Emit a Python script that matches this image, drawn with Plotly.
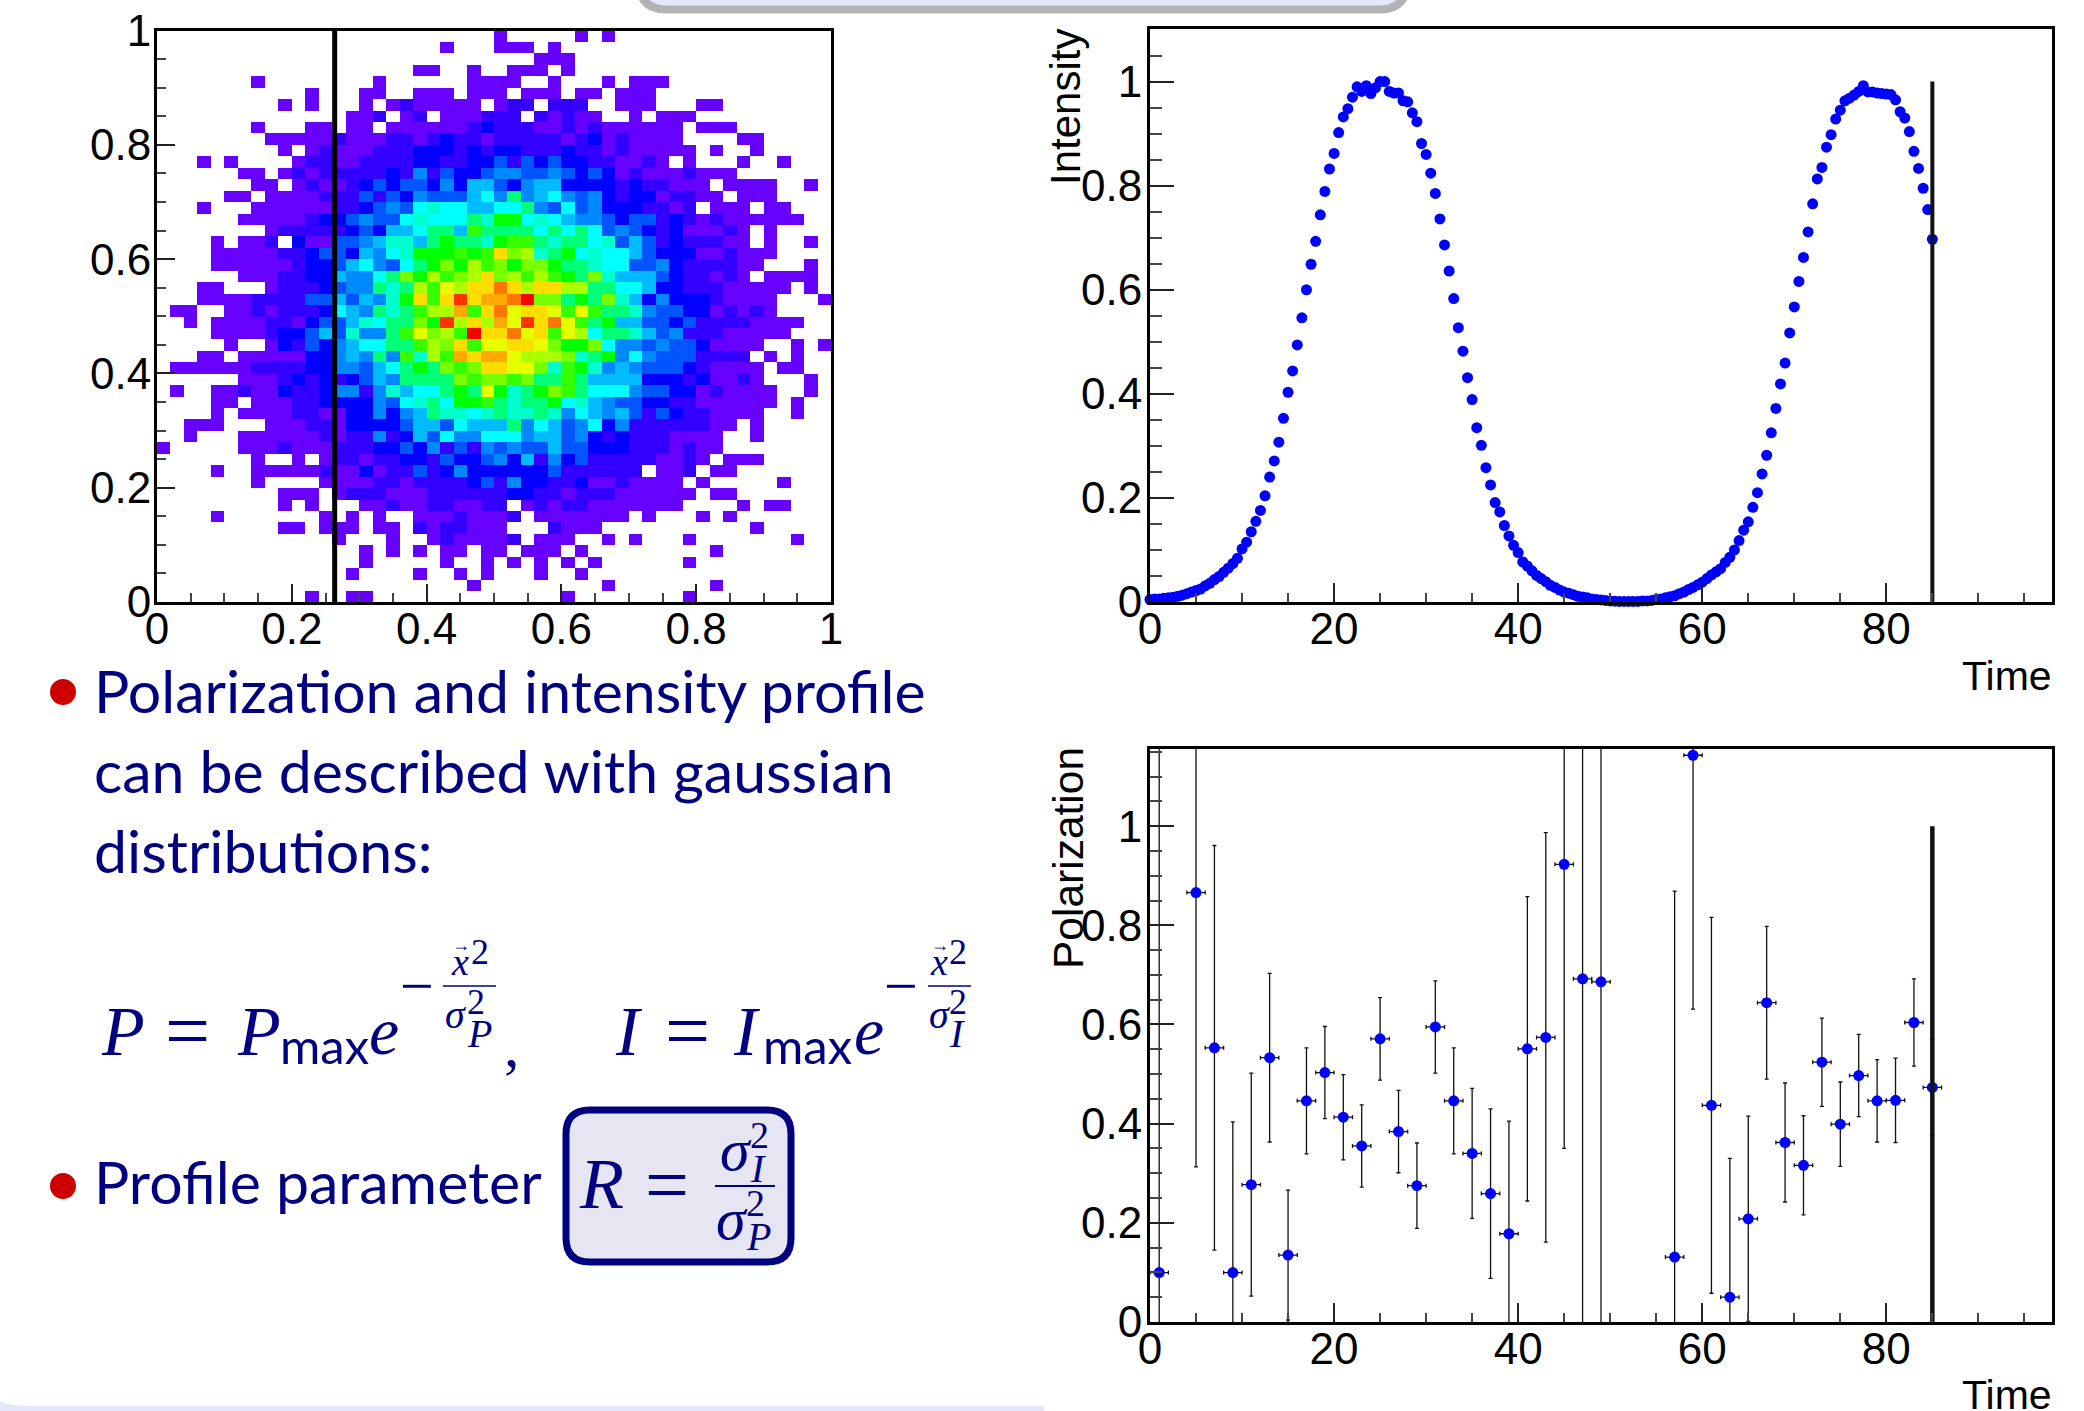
import plotly.graph_objects as go

W, H = 2084, 1411

# 2D histogram: rows listed from the top of the plot (y near 1) to the bottom, 50 columns each.
# '.' is an empty bin; other symbols index into histogram_palette in order.
histogram_symbols = "123456789abcdefghij"
histogram_palette = ["#6600FF", "#3300FF", "#0000FF", "#0055FF", "#0088FF", "#00BBFF", "#00FFFF",
                     "#00FFCC", "#00FF77", "#00FF00", "#33FF00", "#77FF00", "#AAFF00", "#E5FF00",
                     "#FFDD00", "#FFAA00", "#FF7700", "#FF3300", "#FF0000"]
histogram_rows = [
    ".......... .......... .....1.... .1.1...... ..........",
    ".......... .......... .1...111.1 .......... ..........",
    ".......... .......... ........11 1......... ..........",
    ".......... .........1 1..1..111. 1......... ..........",
    ".......1.. ......1... ...1111..1 ...1.111.. ..........",
    ".......... .1...11..1 11.111.111 .11.111... ..........",
    ".........1 .1...1.121 1111.122.2 22..111... 11........",
    ".......... ....112.12 .111222.21 211..1.111 ..........",
    ".......1.. .11.11.111 1112322211 212111111. 111.......",
    "........11 1112111221 2322122222 123121111. ...11.....",
    ".........1 .121112223 3323233222 3221211111 .1..1.....",
    "...1.1.... 1221122223 3223342434 33221121.1 ...1..1...",
    "......11.1 2122222325 2433455445 4343121112 111.......",
    ".......11. 1211234344 3536643566 3333232211 1.1111..1.",
    ".....11.11 1122242435 4446759567 5453233122 11.111....",
    "...1...111 1112234547 8776677954 7453332212 .111.11...",
    "......1111 1233454478 77798aa787 6554344232 12111111..",
    "........12 2222343667 996b999979 7974543231 1121.1....",
    "....1.112. 3114456886 9a998abb98 9978464232 2211.1..1.",
    "....111112 234436578a aababfcd89 a787764333 112111....",
    "....111111 2334675479 acadbcacca 9987744532 22211...1.",
    "......1112 23365579ca dbcdfcdbdb a9c8666432 2121.1111.",
    "...11...12 223455989d bedffhfdff dd99776332 2211111.1.",
    "...1111222 24464658af bfifgghjcc 9a9c863533 321111...1",
    ".11..11212 223765989b ddgbfheffe beb9985443 312121....",
    "..1.111122 134468799c aidfdgeifh eb9a664434 22221111..",
    "....111123 34648559be cdbjffhefb ed79986452 2211111...",
    ".....1..13 243567799b dcfbeeffec aac7554544 31111..1.1",
    "...11.1111 13356595b8 dbgfggeddd c89a575444 2222.1.1..",
    ".111111222 233554679a 9cbcffeec8 ba85654443 21111.11..",
    "......1112 3232346599 99cbccbc99 b966663332 31121...1.",
    ".1..112113 2235525867 79a9ea89ac b977754433 121111..1.",
    "....11.111 2233335478 97aab9899a 7865443322 111111.1..",
    "....1.1111 2211335356 9887898898 5765642432 21111..1..",
    "..111...11 1221333346 6476669576 4573522222 211.1.....",
    "..1...1111 1121225236 4755777566 4532322211 11..1.....",
    "1.....1112 1112223343 5242545446 4433322212 11........",
    ".......1.. 1.12212233 2433453625 3422222112 1.111.....",
    "....1..111 1121131224 2353333334 222222.112 .11.......",
    ".......1.. ..11112212 2223425332 231121111. 1.....1...",
    ".........1 11.1222111 2222223322 1222111111 .11.......",
    ".........1 .1...11211 221122.121 221111111. ...1.11...",
    "....1..... ..1.1.1..1 1121112.11 11111.1... 1.1.......",
    ".........1 1.111.11.2 122111...2 111....... ....1.....",
    ".......... ...1...1.. 1211112.11 1..1.1...1 .......1..",
    ".......... .....1.1.1 .11.11.111 .1........ .1........",
    ".......... .....1.... .1..1.1.1. 1.1......1 ..........",
    ".......... ....1....1 ..1.1...1. .1........ ..........",
    ".......... .......... ...1...... ...1...... .1........",
    ".......... .1..11.... .......... 1........1 ..........",
]
histogram_cut = 0.2636

intensity_values = [
    .005, .006, .006, .007, .008, .009, .011, .013, .016, .019, .022, .025, .031, .036, .043, .049,
    .057, .065, .074, .084, .102, .115, .135, .155, .176, .204, .240, .271, .307, .353, .403, .444,
    .494, .546, .600, .649, .693, .744, .789, .832, .862, .902, .932, .948, .970, .990, .981, .992,
    .977, .988, 1.0, 1.0, .981, .978, .978, .963, .961, .940, .923, .881, .860, .824, .785, .736,
    .686, .636, .583, .527, .482, .431, .389, .335, .301, .258, .225, .191, .173, .147, .127, .109,
    .095, .077, .069, .060, .051, .045, .039, .032, .028, .023, .019, .017, .014, .011, .0096, .008,
    .006, .005, .004, .003, .002, .0015, .001, .001, .001, .001, .001, .002, .002, .003, .005,
    .006, .008, .010, .012, .016, .019, .024, .028, .033, .038, .045, .052, .058, .064, .076, .086,
    .100, .118, .138, .154, .182, .210, .246, .282, .325, .372, .419, .459, .517, .567, .616, .662,
    .711, .765, .813, .835, .874, .898, .928, .945, .963, .968, .974, .981, .992, .980, .980, .978,
    .977, .976, .975, .965, .942, .930, .904, .866, .833, .795, .754, .697,
]
intensity_time = [i * 0.5 for i in range(len(intensity_values))]

polarization_time = [1, 5, 7, 9, 11, 13, 15, 17, 19, 21, 23, 25, 27, 29, 31, 33, 35, 37, 39, 41, 43, 45,
                     47, 49, 57, 59, 61, 63, 65, 67, 69, 71, 73, 75, 77, 79, 81, 83, 85]
polarization_values = [.0996, .866, .553, .0996, .277, .533, .135, .446, .503, .413, .355, .571, .384,
                       .275, .595, .446, .340, .259, .178, .551, .574, .923, .692, .686, .131, 1.143,
                       .437, .050, .208, .644, .362, .316, .524, .399, .497, .446, .447, .604, .473]
polarization_errors = [1.2, .553, .408, .304, .225, .17, .131, .107, .093, .086, .083, .083, .083, .086,
                       .093, .107, .131, .171, .227, .307, .413, .573, .85, 1.1, .738, .512, .379, .28,
                       .207, .154, .12, .1, .089, .085, .083, .083, .085, .088, .097]
time_half_width = 1
time_cut = 85

TICK_FONT = dict(family="Liberation Sans", size=44, color="black")
NAVY = "#000080"
LAV = "#E6E6FA"


def px(x):
    return x / W


def py(y):
    return 1 - y / H


grid = []
for row in reversed(histogram_rows):
    cells = row.replace(" ", "")
    assert len(cells) == 50, row
    grid.append([None if c == "." else histogram_symbols.index(c) + 1 for c in cells])

n = len(histogram_palette)
scale = []
for i, c in enumerate(histogram_palette):
    scale += [[i / n, c], [(i + 1) / n, c]]

fig = go.Figure()
fig.add_trace(go.Heatmap(z=grid, x0=0.01, dx=0.02, y0=0.01, dy=0.02, colorscale=scale, zmin=0.5, zmax=n + 0.5,
                         showscale=False, hoverinfo="skip", xaxis="x", yaxis="y"))
fig.add_trace(go.Scatter(x=[histogram_cut, histogram_cut], y=[0, 1], mode="lines",
                         line=dict(color="black", width=5), xaxis="x", yaxis="y"))
fig.add_trace(go.Scatter(x=intensity_time, y=intensity_values, mode="markers",
                         marker=dict(color="#0000FF", size=11), xaxis="x2", yaxis="y2", cliponaxis=False))
fig.add_trace(go.Scatter(x=[time_cut, time_cut], y=[0, 1], mode="lines",
                         line=dict(color="#111111", width=4), xaxis="x2", yaxis="y2"))
fig.add_trace(go.Scatter(x=polarization_time, y=polarization_values, mode="markers",
                         marker=dict(color="#0000FF", size=11),
                         error_y=dict(type="data", array=polarization_errors, color="#111111", thickness=1.3, width=2),
                         error_x=dict(type="constant", value=time_half_width, color="#111111", thickness=1.3, width=2),
                         xaxis="x3", yaxis="y3"))
fig.add_trace(go.Scatter(x=[time_cut, time_cut], y=[0, 1], mode="lines",
                         line=dict(color="#111111", width=4.5), xaxis="x3", yaxis="y3"))


def axis(dom, rng, dtick, minor, ticklen, minorlen, anchor, standoff):
    return dict(domain=dom, range=rng, dtick=dtick, tick0=0, ticks="inside", ticklen=ticklen, tickwidth=2,
                tickcolor="#222222", showline=True, linewidth=3, linecolor="black", mirror=True,
                showgrid=False, zeroline=False, tickfont=TICK_FONT, anchor=anchor, automargin=False,
                ticklabelstandoff=standoff,
                minor=dict(dtick=minor, tick0=0, ticks="inside", ticklen=minorlen, tickwidth=2,
                           tickcolor="#444444", showgrid=False))


layout = dict(
    template="none",
    width=W, height=H, margin=dict(l=0, r=0, t=0, b=0, pad=0, autoexpand=False), paper_bgcolor="white",
    plot_bgcolor="white", showlegend=False,
    xaxis=axis([px(157), px(831)], [0, 1], 0.2, 0.05, 18, 9, "y", -14),
    yaxis=axis([py(602), py(30.5)], [0, 1], 0.2, 0.05, 18, 9, "x", -6),
    xaxis2=axis([px(1150), px(2052)], [0, 98], 20, 5, 19, 9, "y2", -14),
    yaxis2=axis([py(602), py(29)], [0, 1.101], 0.2, 0.05, 24, 12, "x2", -4),
    xaxis3=axis([px(1150), px(2052)], [0, 98], 20, 5, 19, 9, "y3", -14),
    yaxis3=axis([py(1322), py(749)], [0, 1.1556], 0.2, 0.05, 24, 12, "x3", -4),
)
fig.update_layout(**layout)

shapes = []


def rect_path(x0, y0, x1, y1, r):
    X0, X1, Y0, Y1 = px(x0), px(x1), py(y0), py(y1)
    rx, ry = r / W, r / H
    return (f"M{X0 + rx},{Y0} L{X1 - rx},{Y0} Q{X1},{Y0} {X1},{Y0 - ry} L{X1},{Y1 + ry} Q{X1},{Y1} {X1 - rx},{Y1} "
            f"L{X0 + rx},{Y1} Q{X0},{Y1} {X0},{Y1 + ry} L{X0},{Y0 - ry} Q{X0},{Y0} {X0 + rx},{Y0} Z")


# Top title box remnant
shapes.append(dict(type="path", xref="paper", yref="paper", path=rect_path(639, -40, 1407, 9.5, 28),
                   fillcolor=LAV, line=dict(color="#B3B3B3", width=8), layer="below"))
# Bottom band
shapes.append(dict(type="path", xref="paper", yref="paper",
                   path=f"M0,{py(1401)} Q{px(8)},{py(1406)} {px(35)},{py(1406)} L{px(1044)},{py(1406)} L{px(1044)},0 L0,0 Z",
                   fillcolor=LAV, line=dict(width=0), layer="below"))
# Bullets
for cy in (692, 1186):
    shapes.append(dict(type="circle", xref="paper", yref="paper", x0=px(50), x1=px(76), y0=py(cy - 13), y1=py(cy + 13),
                       fillcolor="#CC0000", line=dict(width=0)))
# Formula box
shapes.append(dict(type="path", xref="paper", yref="paper", path=rect_path(566, 1110, 791, 1262, 24),
                   fillcolor="#E6E6F2", line=dict(color=NAVY, width=7)))
# Fraction bars
for x0, x1, y, w in [(443, 496, 986, 1.5), (928, 971, 986, 1.5), (715, 775, 1186, 2)]:
    shapes.append(dict(type="line", xref="paper", yref="paper", x0=px(x0), x1=px(x1), y0=py(y), y1=py(y),
                       line=dict(color=NAVY, width=w)))
fig.update_layout(shapes=shapes)

ann = []


def text(s, x, y, size, family="Liberation Sans", color="black", xanchor="left", yanchor="middle", angle=0):
    ann.append(dict(text=s, x=px(x), y=py(y), xref="paper", yref="paper", showarrow=False, xanchor=xanchor,
                    yanchor=yanchor, textangle=angle, font=dict(family=family, size=size, color=color),
                    borderpad=0, borderwidth=0))


# Axis titles
text("Intensity", 1065, 29, 42, xanchor="center", yanchor="top", angle=-90)
text("Polarization", 1068, 747, 42.5, xanchor="center", yanchor="top", angle=-90)
text("Time", 2052, 676, 41, xanchor="right")
text("Time", 2052, 1395, 41, xanchor="right")

SANS = "Lato"
SERIF = "Liberation Serif"
text("Polarization and intensity profile", 94, 690, 59, SANS, NAVY)
text("can be described with gaussian", 94, 770, 59, SANS, NAVY)
text("distributions:", 94, 850, 59, SANS, NAVY)
text("Profile parameter", 94, 1181, 59, SANS, NAVY)


def ital(s):
    return f"<i>{s}</i>"


# P = Pmax e^-(x^2/sigma_P^2),   I = Imax e^-(x^2/sigma_I^2)
text(ital("P"), 101, 1031, 70, SERIF, NAVY)
text("=", 165, 1031, 80, SERIF, NAVY)
text(ital("P"), 237, 1031, 70, SERIF, NAVY)
text("max", 280, 1045, 49, SANS, NAVY)
text(ital("e"), 369, 1031, 68, SERIF, NAVY)
text("−", 400, 986, 60, SERIF, NAVY)
text(ital("x"), 451, 962, 38, SERIF, NAVY)
text("→", 452, 945, 18, SERIF, NAVY)
text("2", 471, 952, 36, SERIF, NAVY)
text(ital("σ"), 445, 1014, 40, SERIF, NAVY)
text("2", 467, 1002, 36, SERIF, NAVY)
text(ital("P"), 467, 1033, 40, SERIF, NAVY)
text(",", 504, 1045, 62, SERIF, NAVY)

text(ital("I"), 615, 1031, 70, SERIF, NAVY)
text("=", 665, 1031, 80, SERIF, NAVY)
text(ital("I"), 733, 1031, 70, SERIF, NAVY)
text("max", 763, 1045, 49, SANS, NAVY)
text(ital("e"), 854, 1031, 68, SERIF, NAVY)
text("−", 884, 986, 60, SERIF, NAVY)
text(ital("x"), 930, 962, 38, SERIF, NAVY)
text("→", 931, 945, 18, SERIF, NAVY)
text("2", 949, 952, 36, SERIF, NAVY)
text(ital("σ"), 929, 1014, 40, SERIF, NAVY)
text("2", 949, 1002, 36, SERIF, NAVY)
text(ital("I"), 949, 1033, 40, SERIF, NAVY)

# R = sigma_I^2 / sigma_P^2
text(ital("R"), 579, 1184, 72, SERIF, NAVY)
text("=", 645, 1184, 78, SERIF, NAVY)
text(ital("σ"), 720, 1150, 60, SERIF, NAVY)
text("2", 750, 1135, 38, SERIF, NAVY)
text(ital("I"), 750, 1168, 40, SERIF, NAVY)
text(ital("σ"), 716, 1219, 60, SERIF, NAVY)
text("2", 746, 1203, 38, SERIF, NAVY)
text(ital("P"), 746, 1236, 40, SERIF, NAVY)

fig.update_layout(annotations=ann)

fig.write_html("out.html", config={"displayModeBar": False},
               post_script="document.body.style.margin='0';document.body.style.overflow='hidden';")
